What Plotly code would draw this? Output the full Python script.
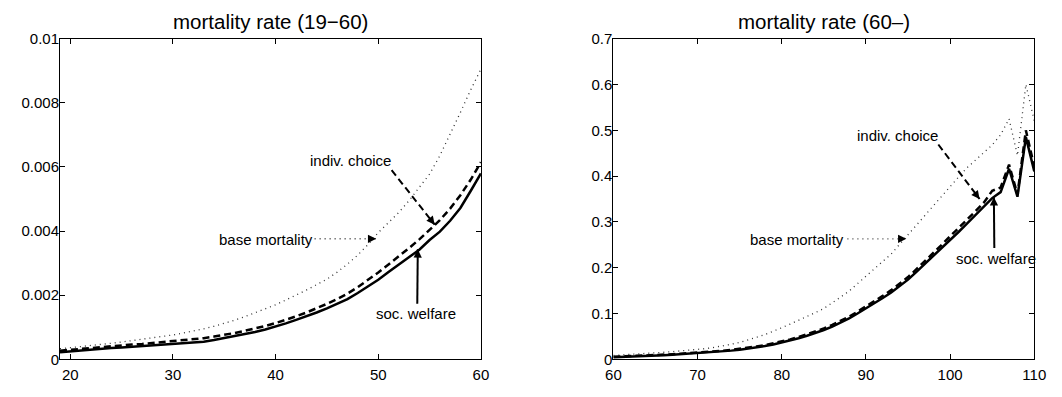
import plotly.graph_objects as go

# ---- data: mortality rates by age ----
ages_young = list(range(19, 61))
soc_welfare_young = [
    0.00022, 0.00025, 0.00028, 0.00031, 0.00033, 0.00035, 0.00037, 0.00039,
    0.00041, 0.00043, 0.00045, 0.00047, 0.00049, 0.00052, 0.00055, 0.00060,
    0.00066, 0.00072, 0.00078, 0.00085, 0.00093, 0.00102, 0.00112, 0.00123,
    0.00134, 0.00146, 0.00159, 0.00173, 0.00188, 0.00207, 0.00227, 0.00248,
    0.00272, 0.00296, 0.00318, 0.00342, 0.00372, 0.00398, 0.00432, 0.00472,
    0.00525, 0.00580,
]
indiv_choice_young = [
    0.00027, 0.00030, 0.00033, 0.00036, 0.00039, 0.00041, 0.00043, 0.00046,
    0.00048, 0.00051, 0.00054, 0.00057, 0.00059, 0.00062, 0.00066, 0.00071,
    0.00076, 0.00082, 0.00089, 0.00096, 0.00104, 0.00113, 0.00123, 0.00134,
    0.00146, 0.00159, 0.00173, 0.00188, 0.00205, 0.00225, 0.00247, 0.00271,
    0.00296, 0.00321, 0.00347, 0.00374, 0.00403, 0.00434, 0.00470, 0.00512,
    0.00560, 0.00615,
]
base_mortality_young = [
    0.00033, 0.00036, 0.00040, 0.00043, 0.00047, 0.00050, 0.00054, 0.00058,
    0.00062, 0.00066, 0.00071, 0.00076, 0.00082, 0.00088, 0.00095, 0.00103,
    0.00112, 0.00122, 0.00133, 0.00145, 0.00158, 0.00170, 0.00185, 0.00200,
    0.00216, 0.00233, 0.00250, 0.00272, 0.00297, 0.00325, 0.00358, 0.00395,
    0.00425, 0.00458, 0.00495, 0.00535, 0.00578, 0.00635, 0.00700, 0.00770,
    0.00840, 0.00905,
]

ages_old = list(range(60, 111))
soc_welfare_old = [
    0.0045, 0.0050, 0.0056, 0.0063, 0.0071, 0.0080, 0.0089, 0.0099, 0.0110,
    0.0120, 0.0130, 0.0142, 0.0156, 0.0172, 0.0190, 0.0210, 0.0233, 0.0260,
    0.0290, 0.0325, 0.0365, 0.0410, 0.0460, 0.0515, 0.0575, 0.0640, 0.0715,
    0.0800, 0.0895, 0.1000, 0.1110, 0.1220, 0.1340, 0.1460, 0.1600, 0.1740,
    0.1910, 0.2080, 0.2250, 0.2430, 0.2610, 0.2780, 0.2960, 0.3140, 0.3320,
    0.3520, 0.3650, 0.4160, 0.3550, 0.4850, 0.4100,
]
indiv_choice_old = [
    0.0055, 0.0061, 0.0068, 0.0075, 0.0083, 0.0092, 0.0101, 0.0111, 0.0122,
    0.0133, 0.0144, 0.0157, 0.0171, 0.0188, 0.0207, 0.0228, 0.0252, 0.0280,
    0.0311, 0.0347, 0.0388, 0.0434, 0.0486, 0.0543, 0.0605, 0.0673, 0.0750,
    0.0837, 0.0934, 0.1040, 0.1152, 0.1265, 0.1387, 0.1510, 0.1652, 0.1795,
    0.1968, 0.2140, 0.2315, 0.2500, 0.2685, 0.2860, 0.3045, 0.3230, 0.3420,
    0.3680, 0.3750, 0.4250, 0.3600, 0.5000, 0.4200,
]
base_mortality_old = [
    0.0085, 0.0094, 0.0104, 0.0115, 0.0127, 0.0140, 0.0154, 0.0168, 0.0182,
    0.0196, 0.0210, 0.0235, 0.0262, 0.0292, 0.0328, 0.0370, 0.0420, 0.0480,
    0.0540, 0.0610, 0.0690, 0.0770, 0.0850, 0.0930, 0.1020, 0.1110, 0.1230,
    0.1360, 0.1490, 0.1650, 0.1810, 0.1970, 0.2130, 0.2300, 0.2510, 0.2720,
    0.2950, 0.3150, 0.3370, 0.3570, 0.3780, 0.3980, 0.4180, 0.4350, 0.4520,
    0.4680, 0.4900, 0.5250, 0.4450, 0.6000, 0.5200,
]

# ---- axis ticks ----
xticks_young = [20, 30, 40, 50, 60]
yticks_young = [0, 0.002, 0.004, 0.006, 0.008, 0.01]
yticklabels_young = ["0", "0.002", "0.004", "0.006", "0.008", "0.01"]
xticks_old = [60, 70, 80, 90, 100, 110]
yticks_old = [0, 0.1, 0.2, 0.3, 0.4, 0.5, 0.6, 0.7]
yticklabels_old = ["0", "0.1", "0.2", "0.3", "0.4", "0.5", "0.6", "0.7"]

titles = ["mortality rate (19\u221260)", "mortality rate (60\u2013)"]

FONT = "Liberation Sans, Arial, Helvetica, sans-serif"
W, H = 1062, 397

fig = go.Figure()

solid_style = dict(color="black", width=2.5)
dash_style = dict(color="black", width=2.5, dash="7px,4px")
dot_style = dict(color="#333333", width=1.3, dash="1px,4px")

for xa, ya, ages, sw, ic, bm in [
    ("x", "y", ages_young, soc_welfare_young, indiv_choice_young, base_mortality_young),
    ("x2", "y2", ages_old, soc_welfare_old, indiv_choice_old, base_mortality_old),
]:
    fig.add_trace(go.Scatter(x=ages, y=bm, mode="lines", line=dot_style,
                             xaxis=xa, yaxis=ya, showlegend=False))
    fig.add_trace(go.Scatter(x=ages, y=sw, mode="lines", line=solid_style,
                             xaxis=xa, yaxis=ya, showlegend=False))
    fig.add_trace(go.Scatter(x=ages, y=ic, mode="lines", line=dash_style,
                             xaxis=xa, yaxis=ya, showlegend=False))

# axis geometry (pixels)
left_dom = [53 / W, 482 / W]
right_dom = [617 / W, 1046 / W]
y_dom = [1 - 366 / H, 1 - 31 / H]
x_range_young, y_range_young = [19, 60], [0, 0.01]
x_range_old, y_range_old = [60, 110], [0, 0.7]

axis_common = dict(
    showline=True, linecolor="black", linewidth=1, mirror="ticks",
    ticks="inside", ticklen=5, tickcolor="black", tickwidth=1,
    showgrid=False, zeroline=False,
    tickfont=dict(family=FONT, size=15, color="black"),
)

fig.update_layout(
    width=W, height=H,
    margin=dict(l=0, r=0, t=0, b=0),
    paper_bgcolor="white", plot_bgcolor="white",
    xaxis=dict(domain=left_dom, range=x_range_young, tickvals=xticks_young,
               ticktext=[str(v) for v in xticks_young], anchor="y",
               ticklabelstandoff=2, **axis_common),
    yaxis=dict(domain=y_dom, range=y_range_young, tickvals=yticks_young,
               ticktext=yticklabels_young, anchor="x",
               ticklabelstandoff=-3, **axis_common),
    xaxis2=dict(domain=right_dom, range=x_range_old, tickvals=xticks_old,
                ticktext=[str(v) for v in xticks_old], anchor="y2",
                ticklabelstandoff=2, **axis_common),
    yaxis2=dict(domain=y_dom, range=y_range_old, tickvals=yticks_old,
                ticktext=yticklabels_old, anchor="x2",
                ticklabelstandoff=-3, **axis_common),
)

# panel titles
for dom, t in zip([left_dom, right_dom], titles):
    fig.add_annotation(text=t, xref="paper", yref="paper",
                       x=(dom[0] + dom[1]) / 2, y=1 - 13 / H,
                       xanchor="center", yanchor="middle", showarrow=False,
                       font=dict(family=FONT, size=20.5, color="black"))

plot_h_px = (y_dom[1] - y_dom[0]) * H
panel_geom = {
    "x": (left_dom, x_range_young, y_range_young),
    "x2": (right_dom, x_range_old, y_range_old),
}


def label_arrow(xa, ya, text, tx, ty, x0, y0, x1, y1, dash):
    """Text label with a styled line from (x0, y0) to an arrowhead at (x1, y1)."""
    dom, xr, yr = panel_geom[xa]
    fig.add_annotation(text=text, x=tx, y=ty, xref=xa, yref=ya, showarrow=False,
                       xanchor="center", yanchor="middle",
                       font=dict(family=FONT, size=15, color="black"))
    ln = dict(color="black", width=2)
    if dash == "dash":
        ln["dash"] = "7px,4px"
    elif dash == "dot":
        ln.update(dash="1px,4px", color="#333333", width=1.3)
    fig.add_shape(type="line", xref=xa, yref=ya, x0=x0, y0=y0, x1=x1, y1=y1, line=ln)
    # arrowhead: a short annotation arrow aligned with the line
    sx = (dom[1] - dom[0]) * W / (xr[1] - xr[0])
    sy = plot_h_px / (yr[1] - yr[0])
    dxp, dyp = (x1 - x0) * sx, (y1 - y0) * sy
    L = (dxp ** 2 + dyp ** 2) ** 0.5
    back = 6.0
    fig.add_annotation(text="", x=x1, y=y1, xref=xa, yref=ya,
                       axref=xa, ayref=ya,
                       ax=x1 - dxp / L * back / sx, ay=y1 - dyp / L * back / sy,
                       showarrow=True, arrowhead=2, arrowsize=1.1,
                       arrowwidth=1.5, arrowcolor="black", standoff=0)


# left panel labels
label_arrow("x", "y", "indiv. choice", 47.3, 0.0062, 51.3, 0.0059, 55.5, 0.0042, "dash")
label_arrow("x", "y", "base mortality", 39.1, 0.00374, 43.8, 0.00376, 49.8, 0.00376, "dot")
label_arrow("x", "y", "soc. welfare", 53.7, 0.00143, 53.8, 0.00173, 53.85, 0.00343, "solid")

# right panel labels
label_arrow("x2", "y2", "indiv. choice", 93.8, 0.488, 98.6, 0.469, 103.5, 0.350, "dash")
label_arrow("x2", "y2", "base mortality", 81.8, 0.261, 87.8, 0.263, 94.8, 0.263, "dot")
label_arrow("x2", "y2", "soc. welfare", 105.4, 0.220, 105.25, 0.243, 105.2, 0.354, "solid")

fig.write_html("out.html")
